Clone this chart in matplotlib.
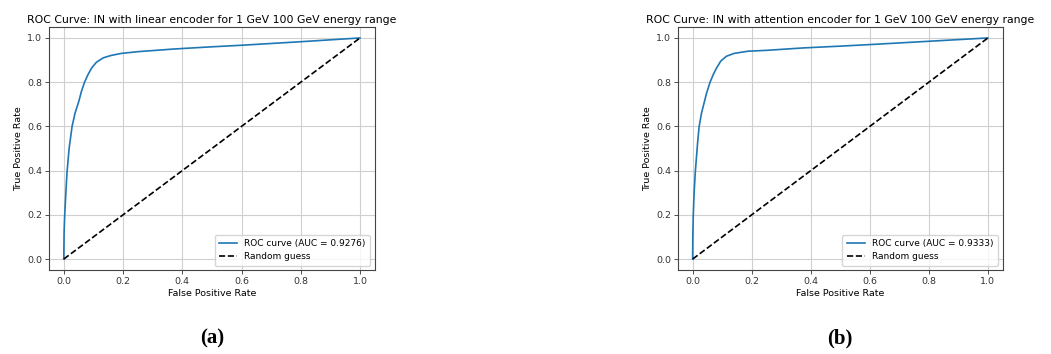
import numpy as np
import matplotlib
matplotlib.use('Agg')
import matplotlib.pyplot as plt

# ROC points
fpr_linear = [0.0, 0.001, 0.003, 0.007, 0.011, 0.018, 0.028, 0.038, 0.05, 0.06, 0.07,
              0.082, 0.094, 0.11, 0.133, 0.16, 0.194, 0.25, 0.372, 0.5, 0.6, 0.8, 1.0]
tpr_linear = [0.0, 0.12, 0.197, 0.3, 0.394, 0.5, 0.6, 0.66, 0.71, 0.76, 0.8,
              0.835, 0.864, 0.89, 0.91, 0.921, 0.93, 0.938, 0.95, 0.96, 0.967, 0.983, 1.0]
auc_linear = 0.9276

fpr_attn = [0.0, 0.0005, 0.002, 0.005, 0.009, 0.017, 0.022, 0.03, 0.037, 0.047, 0.059,
            0.07, 0.081, 0.095, 0.114, 0.14, 0.187, 0.25, 0.376, 0.5, 0.6, 0.8, 1.0]
tpr_attn = [0.0, 0.1, 0.197, 0.3, 0.394, 0.53, 0.6, 0.66, 0.697, 0.75, 0.8,
            0.835, 0.864, 0.895, 0.917, 0.93, 0.94, 0.944, 0.955, 0.963, 0.97, 0.985, 1.0]
auc_attn = 0.9333

titles = ['ROC Curve: IN with linear encoder for 1 GeV 100 GeV energy range',
          'ROC Curve: IN with attention encoder for 1 GeV 100 GeV energy range']
panel_labels = ['(a)', '(b)']

fig = plt.figure(figsize=(10.51, 3.54), dpi=100)
ax1 = fig.add_axes([0.0466, 0.237, 0.310, 0.687])
ax2 = fig.add_axes([0.645, 0.237, 0.309, 0.687])

panels = [(ax1, fpr_linear, tpr_linear, auc_linear),
          (ax2, fpr_attn, tpr_attn, auc_attn)]

for i, (ax, fpr, tpr, auc) in enumerate(panels):
    ax.plot(fpr, tpr, color='#1f77b4', lw=1.2, label=f'ROC curve (AUC = {auc:.4f})')
    ax.plot([0, 1], [0, 1], 'k--', lw=1.2, label='Random guess')
    ax.set_title(titles[i], fontsize=7.85, pad=3)
    ax.set_xlabel('False Positive Rate', fontsize=6.8, labelpad=2)
    ax.set_ylabel('True Positive Rate', fontsize=6.8, labelpad=3)
    ax.set_xticks([0.0, 0.2, 0.4, 0.6, 0.8, 1.0])
    ax.set_yticks([0.0, 0.2, 0.4, 0.6, 0.8, 1.0])
    ax.tick_params(labelsize=6.8, length=3, width=0.6, pad=2, colors='#333333')
    ax.grid(True, color='#d0d0d0', lw=0.8)
    for sp in ax.spines.values():
        sp.set_color('#444444')
        sp.set_linewidth(0.8)
    ax.legend(loc='lower right', fontsize=6.5, handlelength=2.0, borderpad=0.5, labelspacing=0.4)

    # panel label under each chart
    bb = ax.get_position()
    fig.text((bb.x0 + bb.x1) / 2, 0.045, panel_labels[i], ha='center', va='center',
             fontsize=15, fontweight='bold', family='Liberation Serif')

fig.savefig('out.png', dpi=100)
